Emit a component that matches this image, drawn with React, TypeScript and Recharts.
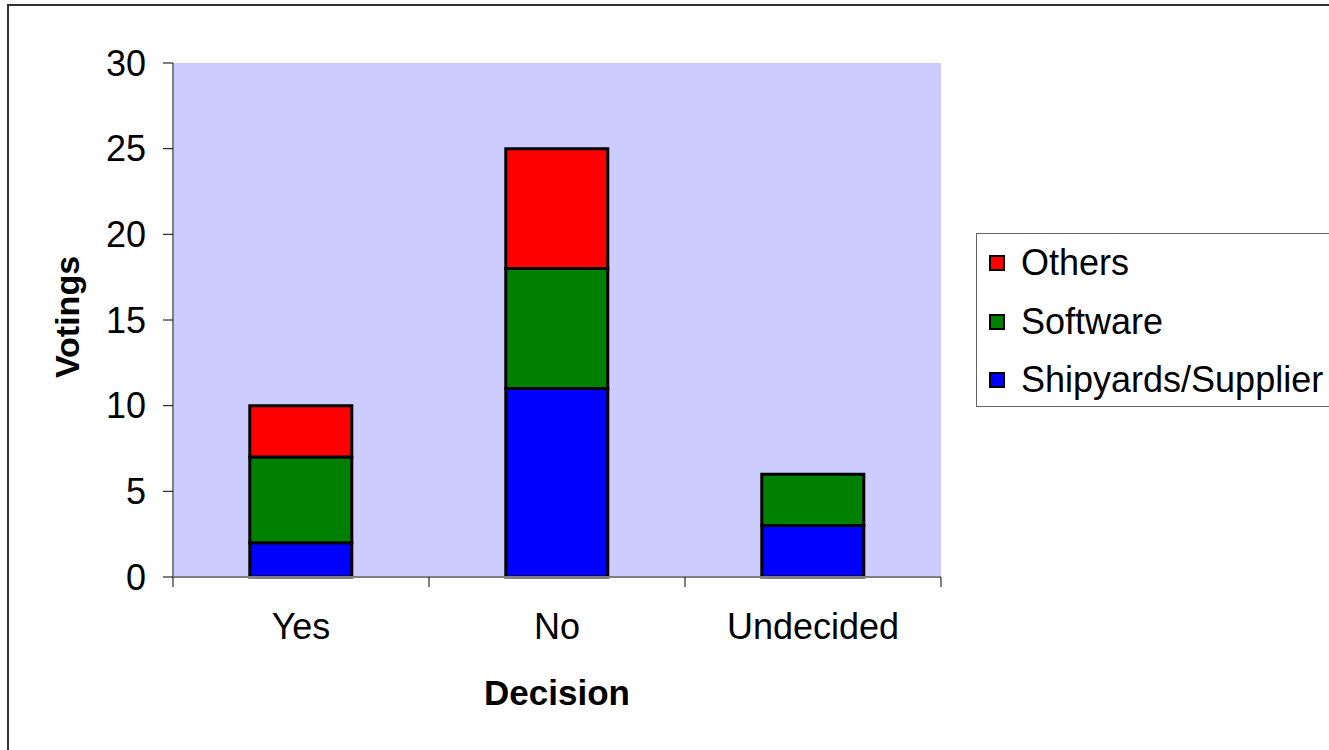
import { Bar, BarChart, CartesianGrid, Legend, XAxis, YAxis } from "recharts";

const categories = ["Yes", "No", "Undecided"];
const shipyards = [2, 11, 3];
const software = [5, 7, 3];
const others = [3, 7, null];
const yTicks = [0, 5, 10, 15, 20, 25, 30];

const series = [
  { key: "others", name: "Others", color: "#ff0000" },
  { key: "software", name: "Software", color: "#008000" },
  { key: "shipyards", name: "Shipyards/Supplier", color: "#0000ff" }
];

const data = categories.map((decision, i) => ({
  decision,
  shipyards: shipyards[i],
  software: software[i],
  others: others[i]
}));

const FONT = "'Liberation Sans', Arial, sans-serif";
const AXIS_GRAY = "#808080";

function CategoryTick(props: any) {
  const { x, y, payload, index, visibleTicksCount } = props;
  const half = payload?.offset ?? 128;
  const lines = [x - half];
  if (index === (visibleTicksCount ?? 3) - 1) lines.push(x + half);
  return (
    <g>
      {lines.map((lx) => (
        <line key={lx} x1={lx} x2={lx} y1={y} y2={y + 10} stroke="#000" strokeWidth={1} />
      ))}
      <text x={x} y={y + 62} textAnchor="middle" fontSize={36} fontFamily={FONT} fill="#000">
        {payload.value}
      </text>
    </g>
  );
}

function LegendBox() {
  return (
    <div
      style={{
        position: "relative",
        width: 370,
        height: 172,
        border: "1.5px solid #666",
        background: "#fff",
        fontFamily: FONT,
        fontSize: 36,
        color: "#000"
      }}
    >
      {series.map((s, i) => (
        <div key={s.key} style={{ position: "absolute", left: 12, top: 29 + i * 58.5 - 20, height: 40, display: "flex", alignItems: "center" }}>
          <span
            style={{
              display: "inline-block",
              width: 12,
              height: 12,
              background: s.color,
              border: "2px solid #000",
              marginRight: 16
            }}
          />
          <span style={{ lineHeight: "40px", whiteSpace: "nowrap" }}>{s.name}</span>
        </div>
      ))}
    </div>
  );
}

export default function App() {
  return (
    <div style={{ position: "absolute", left: 0, top: 0, width: 1329, height: 750, background: "#fff", overflow: "hidden" }}>
      <div style={{ position: "absolute", left: 7, top: 4, width: 1400, height: 800, border: "2px solid #333" }} />
      <BarChart
        width={1329}
        height={750}
        data={data}
        margin={{ top: 63, right: 388, bottom: 0, left: 0 }}
        barCategoryGap="30%"
        style={{ position: "absolute", left: 0, top: 0, fontFamily: FONT }}
      >
        <CartesianGrid fill="#ccccff" horizontal={false} vertical={false} />
        <XAxis
          dataKey="decision"
          height={173}
          axisLine={{ stroke: AXIS_GRAY, strokeWidth: 2 }}
          tickLine={false}
          tickSize={0}
          tickMargin={0}
          tick={<CategoryTick />}
          interval={0}
          label={{
            content: (p: any) => (
              <text
                x={p.viewBox.x + p.viewBox.width / 2}
                y={p.viewBox.y + 128}
                textAnchor="middle"
                fontSize={35}
                fontWeight="bold"
                fontFamily={FONT}
                fill="#000"
              >
                Decision
              </text>
            )
          }}
        />
        <XAxis xAxisId="top" orientation="top" height={0} tick={false} tickLine={false} axisLine={{ stroke: AXIS_GRAY, strokeWidth: 2 }} />
        <YAxis
          width={173}
          domain={[0, 30]}
          ticks={yTicks}
          interval={0}
          tickSize={10}
          tickMargin={17}
          axisLine={{ stroke: AXIS_GRAY, strokeWidth: 2 }}
          tickLine={{ stroke: "#000" }}
          tick={{ fontSize: 36, fill: "#000", fontFamily: FONT }}
          label={{
            content: (p: any) => {
              const cx = p.viewBox.x + 67;
              const cy = p.viewBox.y + p.viewBox.height / 2 - 3;
              return (
                <text
                  x={cx}
                  y={cy}
                  transform={`rotate(-90 ${cx} ${cy})`}
                  textAnchor="middle"
                  dominantBaseline="central"
                  fontSize={34}
                  fontWeight="bold"
                  fontFamily={FONT}
                  fill="#000"
                >
                  Votings
                </text>
              );
            }
          }}
        />
        <YAxis yAxisId="right" orientation="right" width={0} tick={false} tickLine={false} axisLine={{ stroke: AXIS_GRAY, strokeWidth: 2 }} />
        <Legend
          layout="horizontal"
          verticalAlign="middle"
          align="center"
          content={() => <LegendBox />}
          wrapperStyle={{ left: 976, top: 233, width: 370, height: 175 }}
        />
        <Bar dataKey="shipyards" name="Shipyards/Supplier" stackId="a" fill="#0000ff" stroke="#000" strokeWidth={3} isAnimationActive={false} />
        <Bar dataKey="software" name="Software" stackId="a" fill="#008000" stroke="#000" strokeWidth={3} isAnimationActive={false} />
        <Bar dataKey="others" name="Others" stackId="a" fill="#ff0000" stroke="#000" strokeWidth={3} isAnimationActive={false} />
      </BarChart>
    </div>
  );
}
